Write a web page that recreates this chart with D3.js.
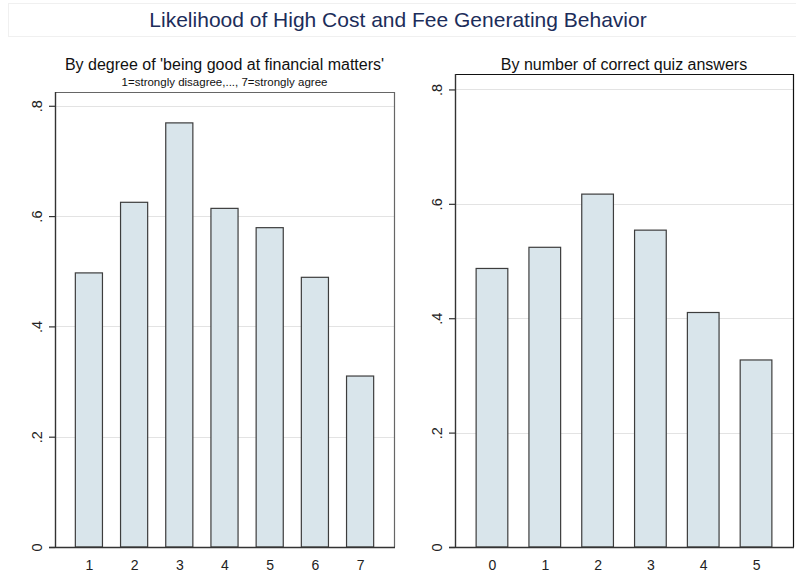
<!DOCTYPE html>
<html>
<head>
<meta charset="utf-8">
<script src="https://cdn.jsdelivr.net/npm/d3@7"></script>
<style>
  body { margin: 0; background: #fff; }
  svg { display: block; font-family: "Liberation Sans", Arial, sans-serif; }
</style>
</head>
<body>
<svg id="chart" width="796" height="582"></svg>
<script>
const mainTitle = "Likelihood of High Cost and Fee Generating Behavior";

const leftTitle = "By degree of 'being good at financial matters'";
const leftSubtitle = "1=strongly disagree,..., 7=strongly agree";
const leftCategories = ["1", "2", "3", "4", "5", "6", "7"];
const leftValues = [0.497, 0.625, 0.769, 0.614, 0.579, 0.489, 0.31];

const rightTitle = "By number of correct quiz answers";
const rightCategories = ["0", "1", "2", "3", "4", "5"];
const rightValues = [0.487, 0.524, 0.617, 0.554, 0.41, 0.327];

const yTicks = [0, 0.2, 0.4, 0.6, 0.8];

const svg = d3.select("#chart");

// faint title box, like the stata graph region
svg.append("rect")
  .attr("x", 8.5).attr("y", 3.5)
  .attr("width", 800).attr("height", 33)
  .attr("fill", "none")
  .attr("stroke", "#f0f0f0");

svg.append("text")
  .attr("x", 398)
  .attr("y", 27)
  .attr("text-anchor", "middle")
  .attr("font-size", "21px")
  .attr("fill", "#1c2d5a")
  .text(mainTitle);

function drawPanel(opts) {
  const { categories, values, title, subtitle, box, yMax, domain } = opts;

  const g = svg.append("g");

  const x = d3.scaleLinear()
    .domain(domain)
    .range([box.left, box.right]);

  const y = d3.scaleLinear()
    .domain([0, yMax])
    .range([box.bottom, box.top]);

  // gridlines
  g.append("g")
    .selectAll("line")
    .data(yTicks.filter(t => t > 0))
    .join("line")
    .attr("x1", box.left)
    .attr("x2", box.right)
    .attr("y1", d => Math.round(y(d)) + 0.5)
    .attr("y2", d => Math.round(y(d)) + 0.5)
    .attr("stroke", "#e3e3e3")
    .attr("stroke-width", 1.2);

  // frame top / right
  g.append("path")
    .attr("d", `M${box.left},${box.top + 0.5}H${box.right + 0.5}V${box.bottom}`)
    .attr("fill", "none")
    .attr("stroke", opts.frameColor)
    .attr("stroke-width", 1.2);

  const barW = 0.6;
  g.append("g")
    .selectAll("rect")
    .data(values)
    .join("rect")
    .attr("x", (d, i) => x(+categories[i] - barW / 2))
    .attr("width", x(barW) - x(0))
    .attr("y", d => y(d))
    .attr("height", d => y(0) - y(d))
    .attr("fill", "#d9e5eb")
    .attr("stroke", "#3d3d3d")
    .attr("stroke-width", 1.2);

  // y axis
  const yAxis = g.append("g")
    .attr("transform", `translate(${box.left},0)`)
    .call(d3.axisLeft(y).tickValues(yTicks).tickSize(6).tickFormat(d => d === 0 ? "0" : d3.format(".1f")(d).replace(/^0/, "")));
  yAxis.select(".domain").attr("d", `M0.5,${box.top}V${box.bottom}`).attr("stroke", "#333").attr("stroke-width", 1.4);
  yAxis.selectAll(".tick line").attr("stroke", "#333").attr("stroke-width", 1.2);
  yAxis.selectAll(".tick text")
    .attr("x", null).attr("dy", null)
    .attr("transform", "translate(-18,0) rotate(-90)")
    .attr("text-anchor", "middle")
    .attr("dominant-baseline", "central")
    .attr("font-size", "14.5px")
    .attr("font-family", "Liberation Sans, Arial, sans-serif")
    .attr("fill", "#222");

  // x axis
  const xAxis = g.append("g")
    .attr("transform", `translate(0,${box.bottom})`)
    .call(d3.axisBottom(x).tickValues(categories.map(Number)).tickSize(0).tickPadding(13).tickFormat(d3.format("d")));
  xAxis.select(".domain").attr("d", `M${box.left - 6},0.5H${box.right + 1}`).attr("stroke", "#333").attr("stroke-width", 1.4);
  xAxis.selectAll(".tick text")
    .attr("font-size", "14px")
    .attr("font-family", "Liberation Sans, Arial, sans-serif")
    .attr("fill", "#222");

  const cx = (box.left + box.right) / 2;
  svg.append("text")
    .attr("x", cx)
    .attr("y", opts.titleY)
    .attr("text-anchor", "middle")
    .attr("font-size", "16px")
    .attr("fill", "#111")
    .text(title);

  if (subtitle) {
    svg.append("text")
      .attr("x", cx)
      .attr("y", opts.titleY + 16)
      .attr("text-anchor", "middle")
      .attr("font-size", "11.5px")
      .attr("fill", "#111")
      .text(subtitle);
  }
}

drawPanel({
  categories: leftCategories,
  values: leftValues,
  title: leftTitle,
  subtitle: leftSubtitle,
  box: { left: 55, right: 394, top: 92, bottom: 547 },
  yMax: 0.825,
  domain: [0.25, 7.75],
  titleY: 70,
  frameColor: "#666"
});

drawPanel({
  categories: rightCategories,
  values: rightValues,
  title: rightTitle,
  subtitle: null,
  box: { left: 455, right: 793, top: 74, bottom: 547 },
  yMax: 0.827,
  domain: [-0.7, 5.7],
  titleY: 70,
  frameColor: "#111"
});
</script>
</body>
</html>
